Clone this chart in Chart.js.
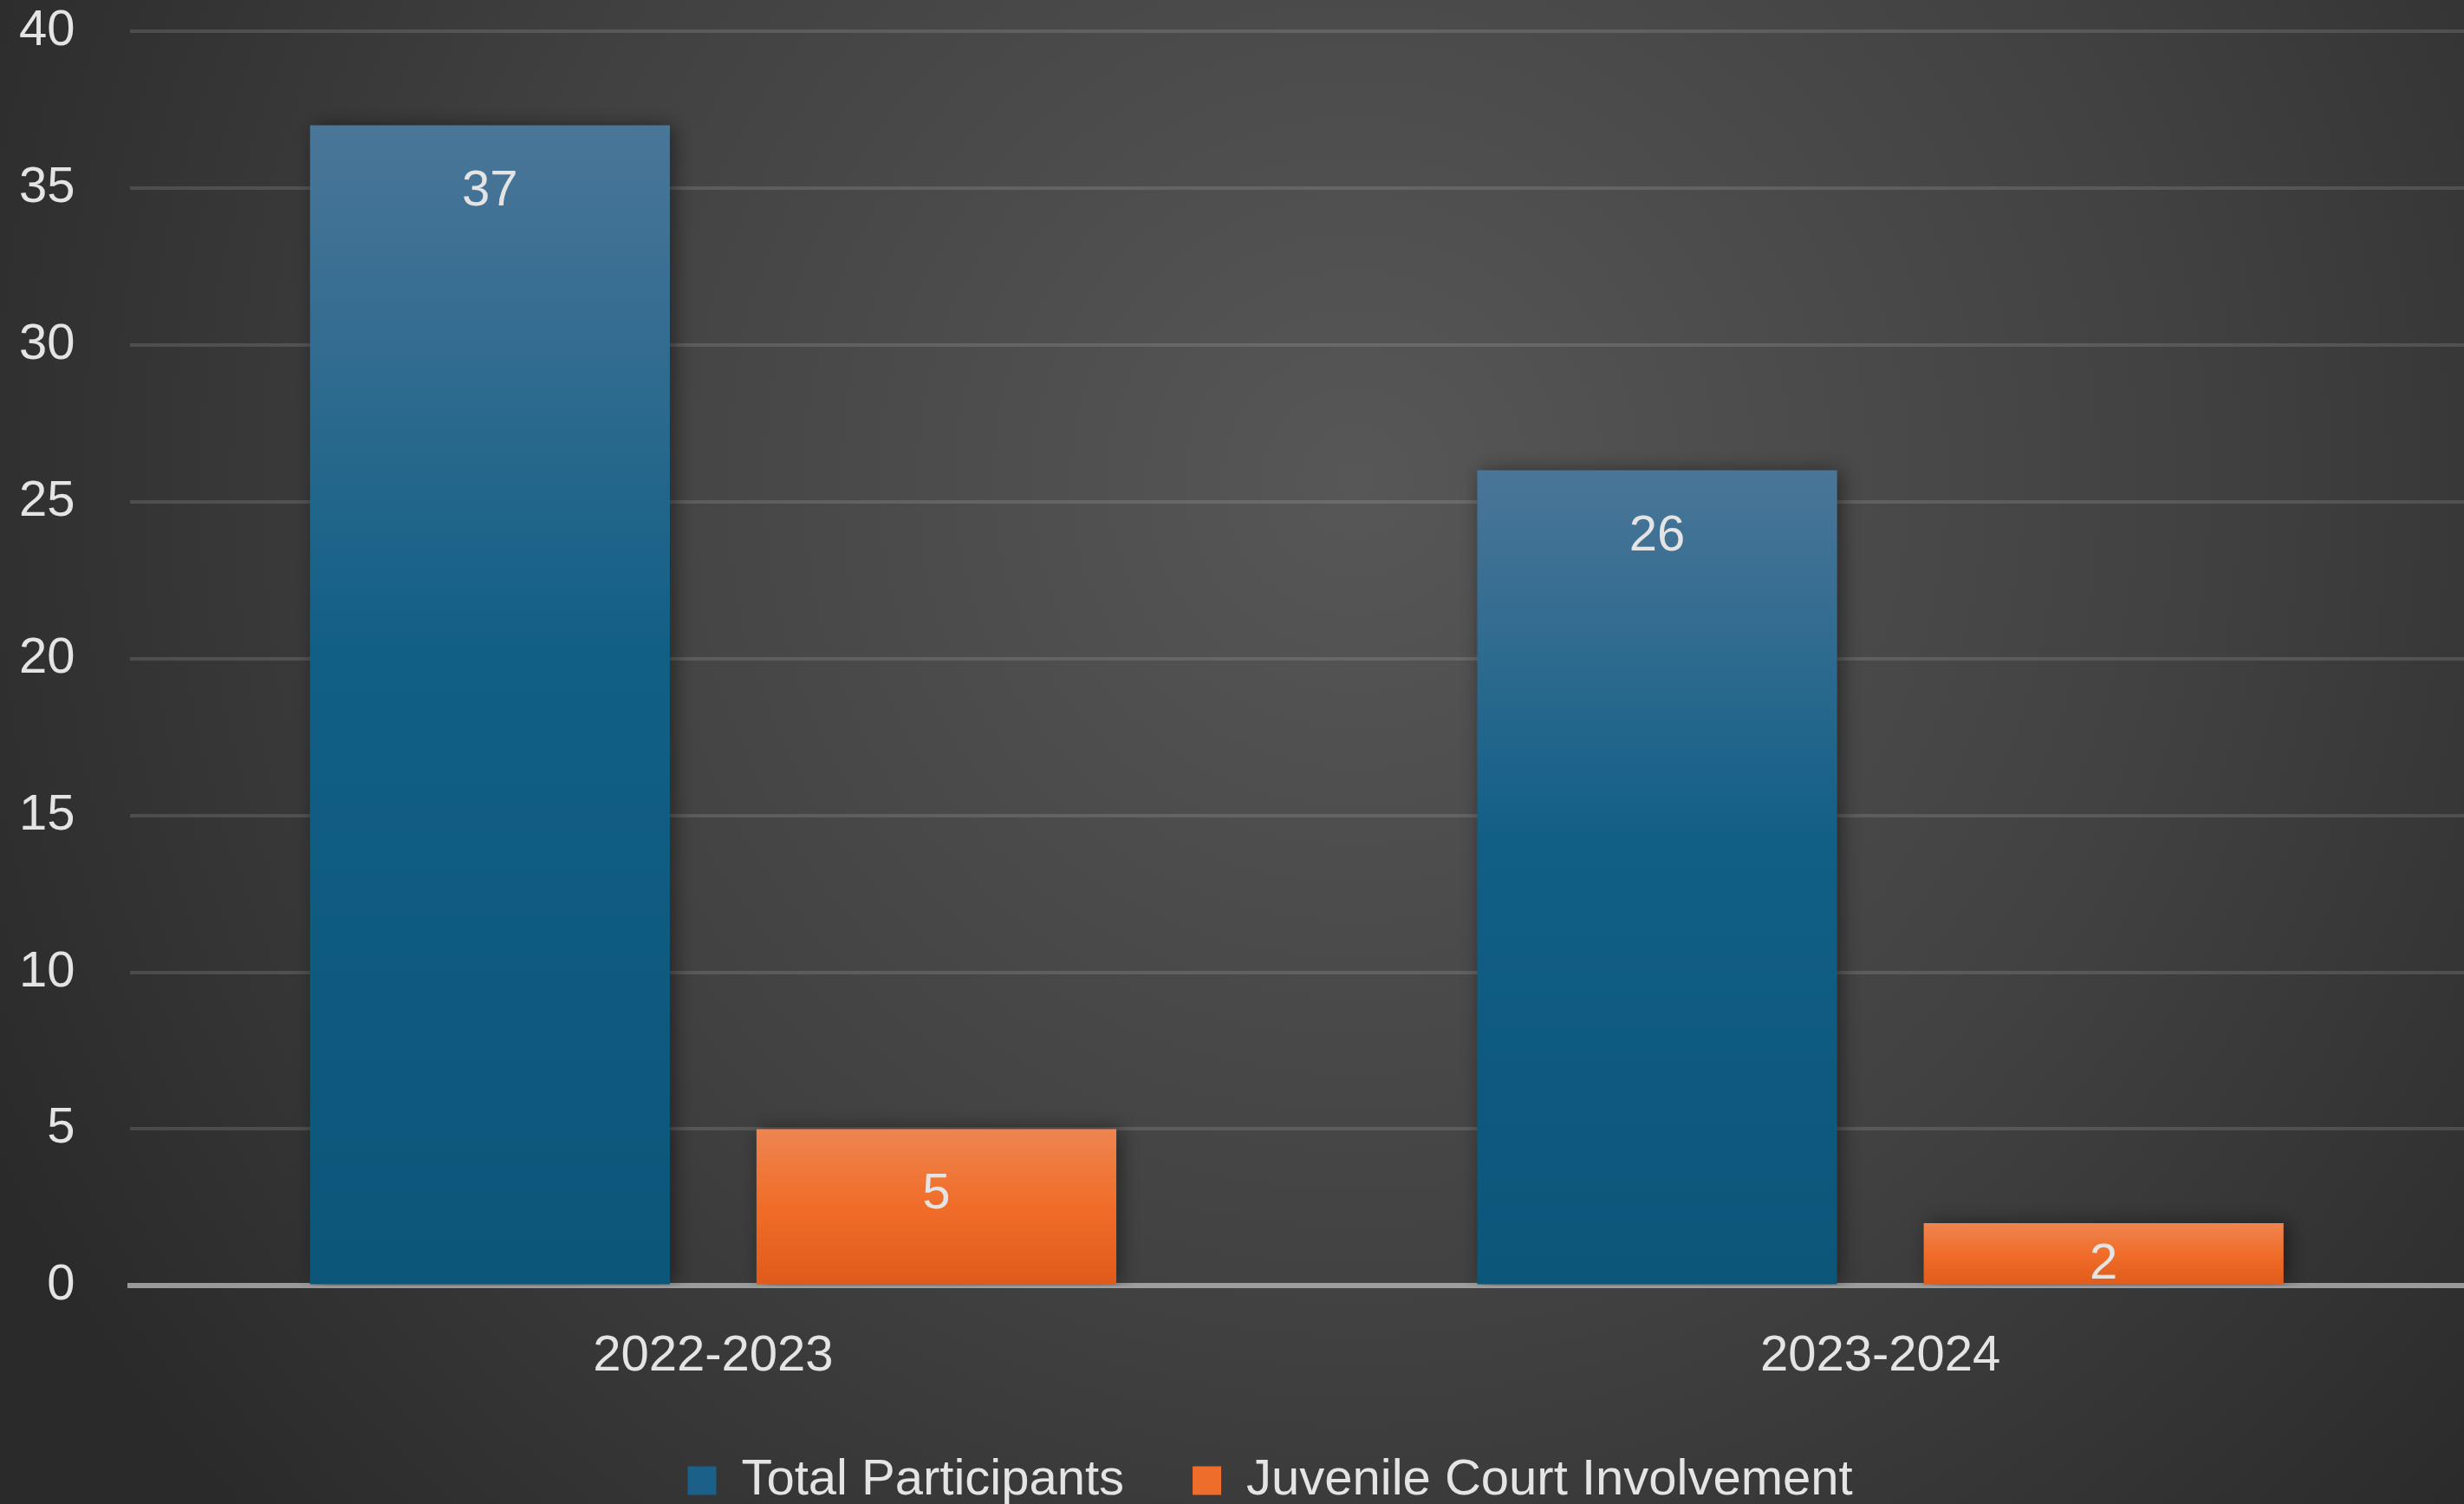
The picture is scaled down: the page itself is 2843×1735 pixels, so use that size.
<!DOCTYPE html>
<html><head><meta charset="utf-8">
<script src="https://cdn.jsdelivr.net/npm/chart.js@4.4.1/dist/chart.umd.min.js"></script>
<style>
html,body{margin:0;padding:0;background:#2e2e2e;overflow:hidden}
#wrap{width:2843px;height:1735px;position:relative}
</style></head>
<body><div id="wrap"><canvas id="c"></canvas></div>
<script>
const categories = ['2022-2023', '2023-2024'];
const seriesNames = ['Total Participants', 'Juvenile Court Involvement'];
const totalParticipants = [37, 26];
const juvenileCourt = [5, 2];
const yTicks = [0, 5, 10, 15, 20, 25, 30, 35, 40];

const FONT = "'Liberation Sans', Arial, sans-serif";
const TEXT = '#e4e4e4';
const blueStops = [[0, '#4a7698'], [0.45, '#125f86'], [1, '#0b5679']];
const orangeStops = [[0, '#ee8550'], [0.5, '#f06c28'], [1, '#e05b1b']];

function barGradient(stops) {
  return (c) => {
    const chart = c.chart;
    if (!chart.chartArea || c.type !== 'data' || !chart.scales.y) return stops[1][1];
    const ys = chart.scales.y;
    const top = ys.getPixelForValue(c.parsed.y);
    const base = ys.getPixelForValue(0);
    const g = chart.ctx.createLinearGradient(0, top, 0, base);
    stops.forEach(s => g.addColorStop(s[0], s[1]));
    return g;
  };
}

const bgPlugin = {
  id: 'bg',
  afterLayout(chart) {
    // nudge the legend a little to the right, as in the original
    if (chart.legend) { chart.legend.left += 33; chart.legend.right += 33; }
  },
  beforeDraw(chart) {
    const ctx = chart.ctx, w = chart.width, h = chart.height;
    ctx.save();
    const g = ctx.createRadialGradient(w * 0.55, h * 0.32, 0, w * 0.55, h * 0.32, w * 0.62);
    g.addColorStop(0, '#575757');
    g.addColorStop(0.55, '#414141');
    g.addColorStop(1, '#2a2a2a');
    ctx.fillStyle = g;
    ctx.fillRect(0, 0, w, h);
    ctx.restore();
  }
};

const barFx = {
  id: 'barFx',
  beforeDatasetsDraw(chart) {
    const ctx = chart.ctx;
    ctx.save();
    ctx.shadowColor = 'rgba(0,0,0,0.45)';
    ctx.shadowBlur = 22;
    ctx.shadowOffsetX = 5;
    ctx.shadowOffsetY = 0;
  },
  afterDatasetsDraw(chart) {
    const ctx = chart.ctx;
    ctx.restore();
    ctx.save();
    ctx.font = '58px ' + FONT;
    ctx.fillStyle = TEXT;
    ctx.textAlign = 'center';
    ctx.textBaseline = 'middle';
    chart.data.datasets.forEach((ds, di) => {
      const meta = chart.getDatasetMeta(di);
      meta.data.forEach((el, i) => {
        const y = Math.min(el.y + 76, el.base - 22);
        ctx.fillText(String(ds.data[i]), el.x, y);
      });
    });
    ctx.restore();
  }
};

new Chart(document.getElementById('c'), {
  type: 'bar',
  data: {
    labels: categories,
    datasets: [
      { label: seriesNames[0], data: totalParticipants, backgroundColor: barGradient(blueStops), borderWidth: 0 },
      { label: seriesNames[1], data: juvenileCourt, backgroundColor: barGradient(orangeStops), borderWidth: 0 }
    ]
  },
  options: {
    responsive: true,
    maintainAspectRatio: false,
    animation: false,
    devicePixelRatio: 1,
    categoryPercentage: 0.765,
    barPercentage: 0.806,
    layout: { padding: { left: 22, top: 36, right: 0, bottom: -12 } },
    plugins: {
      tooltip: { enabled: false },
      legend: {
        position: 'bottom',
        labels: {
          color: TEXT,
          font: { family: FONT, size: 58 },
          boxWidth: 33,
          boxHeight: 33,
          padding: 79,
          generateLabels(chart) {
            const items = Chart.defaults.plugins.legend.labels.generateLabels(chart);
            const solid = ['#1a6088', '#ee6d2b'];
            items.forEach((it, i) => { it.fillStyle = solid[i]; it.strokeStyle = solid[i]; it.lineWidth = 0; });
            return items;
          }
        }
      }
    },
    scales: {
      x: {
        z: 1,
        grid: { display: false, drawTicks: true, tickLength: 47 },
        border: { display: true, color: 'rgba(190,190,190,0.75)', width: 6 },
        ticks: { color: TEXT, font: { family: FONT, size: 58 }, padding: 0 }
      },
      y: {
        min: 0,
        max: 40,
        afterBuildTicks: (s) => { s.ticks = yTicks.map(v => ({ value: v })); },
        grid: {
          drawTicks: true,
          tickLength: 63,
          tickColor: 'rgba(0,0,0,0)',
          lineWidth: 4,
          color: (c) => (c.tick && c.tick.value === 0) ? 'rgba(0,0,0,0)' : 'rgba(255,255,255,0.13)'
        },
        border: { display: false },
        ticks: { color: TEXT, font: { family: FONT, size: 58 }, padding: 0 }
      }
    }
  },
  plugins: [bgPlugin, barFx]
});
</script>
</body></html>
